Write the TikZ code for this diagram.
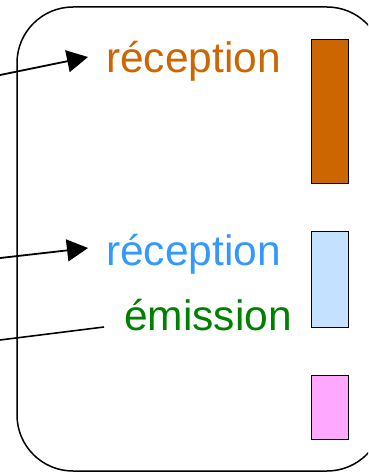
\documentclass[tikz,border=0pt]{standalone}
\usepackage{fontspec}
\setmainfont{Liberation Sans}
\usetikzlibrary{arrows.meta}
\definecolor{rxorange}{HTML}{CC6600}
\definecolor{rxblue}{HTML}{3399FF}
\definecolor{txgreen}{HTML}{008000}
\definecolor{barblue}{HTML}{C4E1FF}
\definecolor{barpink}{HTML}{FFA8FF}

\begin{document}
\begin{tikzpicture}[
    x=1pt, y=-1pt,
    every node/.style={font=\fontsize{42.5pt}{50pt}\selectfont},
    word/.style={anchor=base west, inner sep=0pt},
    bar/.style={draw=black, line width=1.3pt, anchor=north west,
                inner sep=0pt, minimum width=37pt},
    frame/.style={draw=black, line width=1.5pt, rounded corners=56pt},
    arr/.style={-{Triangle[length=21pt, width=22pt]}, line width=1.8pt},
    link/.style={line width=1.6pt},
]
\clip (0,0) rectangle (368,473);

% ---------------------------------------------------------- outer frame
\draw[frame] (17,7) rectangle (383,471);

% ---------------------------------------------------------- labels
\node[word, text=rxorange] (recA) at (106,73)  {réception};
\node[word, text=rxblue]   (recB) at (106,265) {réception};
\node[word, text=txgreen]  (emi)  at (124,330) {émission};

% ---------------------------------------------------------- bars
\node[bar, fill=rxorange, minimum height=144pt] (barA) at (311,39)  {};
\node[bar, fill=barblue,  minimum height=96pt]  (barB) at (311,231) {};
\node[bar, fill=barpink,  minimum height=64pt]  (barC) at (311,375) {};

% ---------------------------------------------------------- incoming lines
\coordinate (inA) at (-20,79.1);
\coordinate (inB) at (-20,260.3);
\coordinate (inC) at (-20,342.5);

\draw[arr]  (inA) -- ([shift={(-18,-16)}]recA.base west);
\draw[arr]  (inB) -- ([shift={(-18,-17)}]recB.base west);
\draw[link] (inC) -- ([shift={(-20,-3)}]emi.base west);

\end{tikzpicture}
\end{document}
